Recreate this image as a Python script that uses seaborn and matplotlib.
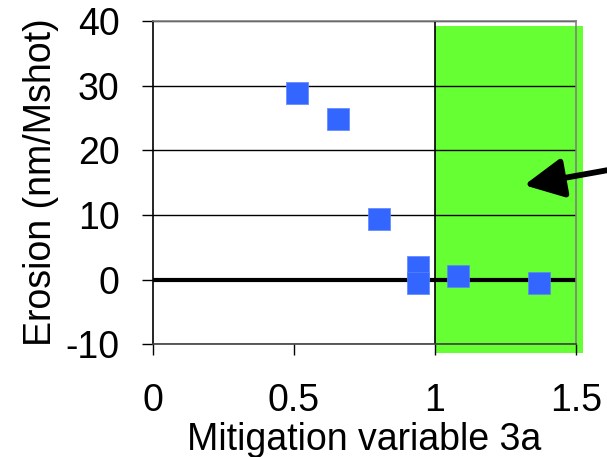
import matplotlib
matplotlib.use("Agg")
import matplotlib.pyplot as plt
import seaborn as sns
import pandas as pd

sns.set_theme(style="white")
plt.rcParams['font.family'] = ['Liberation Sans', 'DejaVu Sans']
plt.rcParams['axes.unicode_minus'] = False

# --- DATA ---
mitigation = [0.51, 0.655, 0.80, 0.94, 0.94, 1.08, 1.37]
erosion = [28.9, 24.9, 9.3, 2.0, -0.5, 0.5, -0.5]
x_ticks = [0, 0.5, 1, 1.5]
x_tick_labels = ['0', '0.5', '1', '1.5']
y_ticks = [-10, 0, 10, 20, 30, 40]
region_x = [1.0, 1.525]
region_y = [-11.3, 39.2]
arrow_tip = (1.316, 14.6)
arrow_tail = (1.66, 17.3)

df = pd.DataFrame({'x': mitigation, 'y': erosion})

fig = plt.figure(figsize=(6.07, 4.57), dpi=100)
ax = fig.add_axes([0.252, 0.247, 0.697, 0.707])

# green target region
rect = plt.Rectangle((region_x[0], region_y[0]), region_x[1] - region_x[0],
                     region_y[1] - region_y[0], facecolor='#66ff33',
                     edgecolor='none', clip_on=False, zorder=0)
ax.add_patch(rect)

# horizontal grid
for yv in y_ticks:
    ax.axhline(yv, color='black', lw=1.0, zorder=1)
ax.axvline(1.0, color='black', lw=1.2, zorder=1)
ax.axhline(0, color='black', lw=3.0, zorder=2)

sns.scatterplot(data=df, x='x', y='y', marker='s', s=250, color='#3366ff',
                edgecolor='#5c85ff', linewidth=0.5, ax=ax, zorder=3)

ax.annotate('', xy=arrow_tip, xytext=arrow_tail, annotation_clip=False,
            arrowprops=dict(arrowstyle='-|>,head_length=1.0,head_width=0.5',
                            lw=4.2, color='black', mutation_scale=24,
                            shrinkA=0, shrinkB=0))

ax.set_xlim(0, 1.5)
ax.set_ylim(-10, 40)
ax.set_xticks(x_ticks)
ax.set_xticklabels(x_tick_labels)
ax.set_yticks(y_ticks)
ax.tick_params(axis='both', labelsize=27, length=8, width=1, direction='out',
               colors='black', labelcolor='black', left=True, bottom=True)
ax.tick_params(axis='x', pad=20)
ax.tick_params(axis='y', pad=16)
ax.set_xlabel('Mitigation variable 3a', fontsize=27, labelpad=2, color='black')
ax.set_ylabel('Erosion (nm/Mshot)', fontsize=27, labelpad=5, color='black')

ax.spines['left'].set_color('black')
ax.spines['bottom'].set_color('#404040')
ax.spines['top'].set_color('#808080')
ax.spines['right'].set_color('#808080')
for sp in ax.spines.values():
    sp.set_linewidth(1.2)
ax.set_facecolor('white')
ax.grid(False)

fig.savefig('out.png', dpi=100)
